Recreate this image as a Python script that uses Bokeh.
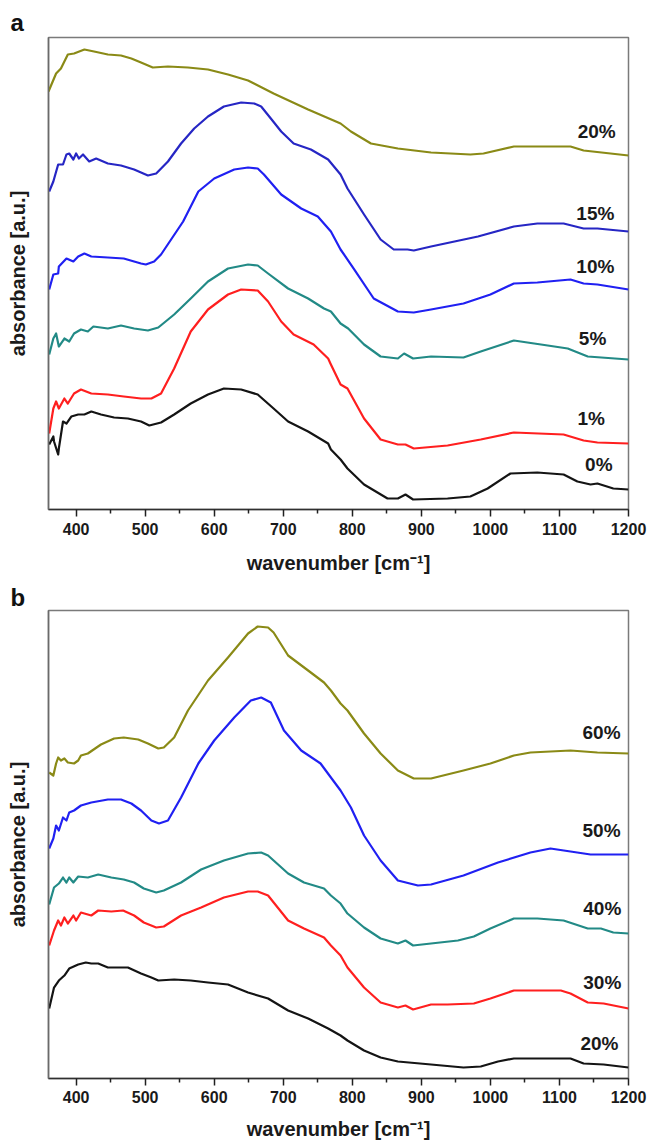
from bokeh.plotting import figure
from bokeh.layouts import column
from bokeh.models import Range1d, FixedTicker
from bokeh.core.properties import value
from bokeh.embed import file_html
from bokeh.resources import INLINE

FONT = "Liberation Sans"

# ---------------- panel a ----------------
wn_a0 = [361,367,368,374,375,381,386,393,403,412,422,436,455,475,494,506,523,542,566,591,614,639,663,686,707,736,765,769,783,793,817,851,866,877,888,938,971,996,1029,1068,1106,1126,1145,1155,1178,1200]
ab_a0 = [0.65,0.73,0.68,0.55,0.61,0.88,0.86,0.93,0.95,0.95,0.98,0.95,0.92,0.91,0.88,0.84,0.87,0.95,1.06,1.15,1.21,1.20,1.15,1.01,0.88,0.78,0.66,0.60,0.50,0.41,0.25,0.11,0.11,0.15,0.10,0.11,0.13,0.21,0.36,0.37,0.35,0.28,0.25,0.26,0.21,0.20]

wn_a1 = [361,367,371,375,383,388,397,407,422,446,469,494,509,523,542,566,591,620,639,663,678,697,715,744,765,769,783,793,817,841,866,877,889,938,986,1034,1106,1135,1155,1200]
ab_a1 = [0.76,1.01,1.08,1.01,1.11,1.06,1.16,1.20,1.16,1.15,1.13,1.11,1.11,1.16,1.41,1.78,2.00,2.15,2.20,2.19,2.08,1.88,1.75,1.65,1.51,1.45,1.25,1.21,0.91,0.70,0.65,0.65,0.61,0.64,0.70,0.77,0.75,0.69,0.67,0.66]

wn_a5 = [361,367,371,375,383,390,397,407,417,425,446,465,484,504,519,542,566,591,620,649,663,678,707,736,759,769,783,794,817,841,866,875,888,914,961,986,1034,1083,1112,1141,1200]
ab_a5 = [1.55,1.71,1.76,1.63,1.71,1.68,1.76,1.80,1.78,1.83,1.81,1.84,1.81,1.79,1.82,1.95,2.11,2.28,2.41,2.45,2.44,2.36,2.21,2.11,2.01,1.98,1.86,1.81,1.65,1.53,1.51,1.56,1.51,1.53,1.52,1.58,1.69,1.64,1.61,1.53,1.50]

wn_a10 = [361,367,374,375,386,396,403,412,422,446,469,494,501,513,523,555,577,600,629,649,663,672,697,726,750,769,783,802,831,866,889,914,961,1000,1034,1068,1116,1135,1155,1200]
ab_a10 = [2.20,2.35,2.36,2.43,2.51,2.48,2.53,2.56,2.53,2.52,2.51,2.46,2.45,2.48,2.55,2.88,3.18,3.31,3.40,3.42,3.41,3.35,3.15,3.01,2.93,2.78,2.60,2.41,2.11,1.98,1.97,2.00,2.06,2.15,2.26,2.27,2.30,2.26,2.25,2.20]

wn_a15 = [361,367,374,381,386,390,396,400,404,410,419,429,446,465,484,504,516,533,552,571,591,614,639,658,668,682,697,715,740,765,783,793,817,841,860,880,889,914,982,1034,1068,1106,1135,1155,1200]
ab_a15 = [3.18,3.28,3.45,3.45,3.55,3.56,3.50,3.56,3.51,3.55,3.48,3.51,3.46,3.44,3.40,3.34,3.36,3.48,3.66,3.81,3.93,4.03,4.07,4.06,4.03,3.91,3.78,3.66,3.60,3.50,3.35,3.21,2.95,2.70,2.60,2.60,2.59,2.63,2.73,2.83,2.86,2.86,2.81,2.81,2.78]

wn_a20 = [360,371,378,388,397,412,426,446,465,480,494,511,533,562,591,620,649,686,736,783,798,827,866,914,971,990,1034,1116,1135,1200]
ab_a20 = [4.18,4.36,4.41,4.55,4.56,4.60,4.58,4.55,4.54,4.51,4.47,4.42,4.43,4.42,4.40,4.35,4.29,4.16,4.00,3.86,3.78,3.66,3.61,3.57,3.55,3.56,3.63,3.63,3.59,3.54]

labels_a = ["20%", "15%", "10%", "5%", "1%", "0%"]
label_a_wn = [1154, 1152, 1152, 1148, 1146, 1157]
label_a_ab = [3.78, 2.96, 2.43, 1.71, 0.91, 0.45]

# ---------------- panel b ----------------
wn_b20 = [361,368,375,383,390,403,414,422,432,446,475,494,509,519,542,566,591,620,649,678,707,736,765,783,793,817,841,866,914,961,986,1011,1034,1116,1135,1164,1200]
ab_b20 = [0.70,0.91,0.98,1.03,1.10,1.14,1.16,1.15,1.15,1.11,1.11,1.05,1.01,0.98,0.99,0.98,0.96,0.94,0.86,0.80,0.68,0.60,0.50,0.43,0.38,0.28,0.21,0.17,0.14,0.11,0.12,0.17,0.20,0.20,0.15,0.14,0.11]

wn_b30 = [361,368,374,378,383,388,396,400,407,422,432,451,468,484,498,516,527,552,581,614,649,663,678,707,730,759,769,783,793,817,841,866,877,888,914,938,976,1000,1034,1068,1102,1116,1141,1164,1200]
ab_b30 = [1.33,1.48,1.58,1.53,1.61,1.55,1.63,1.58,1.66,1.63,1.68,1.67,1.68,1.63,1.56,1.51,1.52,1.63,1.71,1.81,1.87,1.87,1.83,1.58,1.50,1.41,1.33,1.23,1.11,0.91,0.76,0.71,0.73,0.69,0.74,0.74,0.75,0.80,0.88,0.88,0.88,0.85,0.76,0.75,0.70]

wn_b40 = [361,368,375,381,386,390,396,403,417,432,451,469,484,498,516,527,552,581,614,649,668,678,707,730,759,769,783,793,817,841,866,877,888,914,953,976,1000,1034,1068,1106,1141,1160,1178,1200]
ab_b40 = [1.74,1.91,1.95,2.01,1.96,2.01,1.96,2.02,2.01,2.04,2.01,1.99,1.96,1.90,1.86,1.88,1.96,2.09,2.18,2.25,2.26,2.23,2.05,1.96,1.90,1.83,1.75,1.65,1.51,1.40,1.35,1.38,1.33,1.35,1.38,1.42,1.50,1.60,1.60,1.58,1.50,1.50,1.46,1.45]

wn_b50 = [361,367,371,375,381,386,390,397,407,422,446,465,480,494,509,520,533,552,577,600,629,653,668,682,701,726,754,769,783,798,817,841,866,895,914,961,1011,1058,1087,1116,1145,1200]
ab_b50 = [2.30,2.40,2.53,2.48,2.61,2.58,2.66,2.68,2.73,2.76,2.79,2.79,2.75,2.68,2.58,2.55,2.58,2.81,3.15,3.38,3.61,3.78,3.81,3.76,3.48,3.28,3.15,3.01,2.88,2.71,2.43,2.18,1.98,1.93,1.94,2.03,2.16,2.26,2.30,2.27,2.24,2.24]

wn_b60 = [361,367,371,374,378,383,388,397,403,407,417,436,455,469,490,504,519,527,542,562,591,620,649,663,678,686,707,736,759,769,783,793,817,841,866,889,914,961,1000,1034,1058,1116,1155,1200]
ab_b60 = [3.06,3.03,3.15,3.21,3.18,3.20,3.16,3.15,3.18,3.23,3.25,3.34,3.40,3.41,3.39,3.35,3.30,3.31,3.41,3.68,3.98,4.21,4.45,4.52,4.51,4.46,4.23,4.08,3.96,3.88,3.75,3.68,3.45,3.25,3.08,3.00,3.00,3.08,3.15,3.23,3.26,3.28,3.26,3.25]

labels_b = ["60%", "50%", "40%", "30%", "20%"]
label_b_wn = [1161, 1161, 1162, 1162, 1158]
label_b_ab = [3.46, 2.48, 1.70, 0.96, 0.35]

x_major = [400, 500, 600, 700, 800, 900, 1000, 1100, 1200]
x_minor = [450, 550, 650, 750, 850, 950, 1050, 1150]

BLACK = "#141414"
RED = "#ff1f1f"
TEAL = "#228a86"
BLUE1 = "#2020f2"
BLUE2 = "#2626c4"
OLIVE = "#8a8a16"


def make_panel(letter, ymax, frame_h, top, bottom, series, labels,
               lwn, lab, lab_standoff, title_standoff, letter_standoff):
    p = figure(frame_width=580, frame_height=frame_h,
               x_range=Range1d(360, 1200), y_range=Range1d(0, ymax),
               output_backend="svg", toolbar_location=None,
               min_border_left=48, min_border_right=20,
               min_border_top=top, min_border_bottom=bottom)
    p.grid.visible = False
    p.background_fill_color = "white"
    p.border_fill_color = "white"
    p.outline_line_color = "#7a7a7a"
    p.outline_line_width = 1.5

    p.title.text = letter
    p.title.align = "left"
    p.title.offset = -38
    p.title.standoff = letter_standoff
    p.title.text_font = FONT
    p.title.text_font_style = "bold"
    p.title.text_font_size = "24px"
    p.title.text_color = "#111111"

    xa = p.xaxis[0]
    xa.ticker = FixedTicker(ticks=x_major, minor_ticks=x_minor)
    xa.axis_line_color = "#303030"
    xa.axis_line_width = 1.5
    xa.major_tick_line_color = "#202020"
    xa.major_tick_line_width = 1.5
    xa.minor_tick_line_color = "#202020"
    xa.minor_tick_line_width = 1.5
    xa.major_tick_in = 0
    xa.major_tick_out = 7
    xa.minor_tick_in = 0
    xa.minor_tick_out = 4
    xa.major_label_text_font = FONT
    xa.major_label_text_font_style = "bold"
    xa.major_label_text_font_size = "16px"
    xa.major_label_text_color = "#1a1a1a"
    xa.major_label_standoff = lab_standoff
    xa.axis_label = "wavenumber [cm\u207b\u00b9]"
    xa.axis_label_text_font = FONT
    xa.axis_label_text_font_style = "bold"
    xa.axis_label_text_font_size = "20px"
    xa.axis_label_text_color = "#1a1a1a"
    xa.axis_label_standoff = title_standoff

    ya = p.yaxis[0]
    ya.ticker = FixedTicker(ticks=[], minor_ticks=[])
    ya.axis_line_color = "#6a6a6a"
    ya.axis_line_width = 1.5
    ya.major_tick_out = 0
    ya.major_tick_in = 0
    ya.minor_tick_out = 0
    ya.minor_tick_in = 0
    ya.major_label_text_font_size = "0px"
    ya.axis_label = "absorbance [a.u.]"
    ya.axis_label_text_font = FONT
    ya.axis_label_text_font_style = "bold"
    ya.axis_label_text_font_size = "20px"
    ya.axis_label_text_color = "#1a1a1a"
    ya.axis_label_standoff = 20

    for wn, ab, col in series:
        p.line(wn, ab, line_color=col, line_width=2.2, line_join="round")

    p.text(x=lwn, y=lab, text=labels, text_font=value(FONT),
           text_font_style="bold", text_font_size="19px",
           text_align="center", text_baseline="middle", text_color="#1a1a1a")
    return p


pa = make_panel("a", 4.72, 472, 37, 72,
                [(wn_a0, ab_a0, BLACK), (wn_a1, ab_a1, RED), (wn_a5, ab_a5, TEAL),
                 (wn_a10, ab_a10, BLUE1), (wn_a15, ab_a15, BLUE2),
                 (wn_a20, ab_a20, OLIVE)],
                labels_a, label_a_wn, label_a_ab, 6, 14, 4)

pb = make_panel("b", 4.68, 468, 25, 64,
                [(wn_b20, ab_b20, BLACK), (wn_b30, ab_b30, RED), (wn_b40, ab_b40, TEAL),
                 (wn_b50, ab_b50, BLUE1), (wn_b60, ab_b60, OLIVE)],
                labels_b, label_b_wn, label_b_ab, 5, 12, 0)

layout = column(pa, pb, spacing=0)
open("out.html", "w").write(file_html(layout, INLINE))
